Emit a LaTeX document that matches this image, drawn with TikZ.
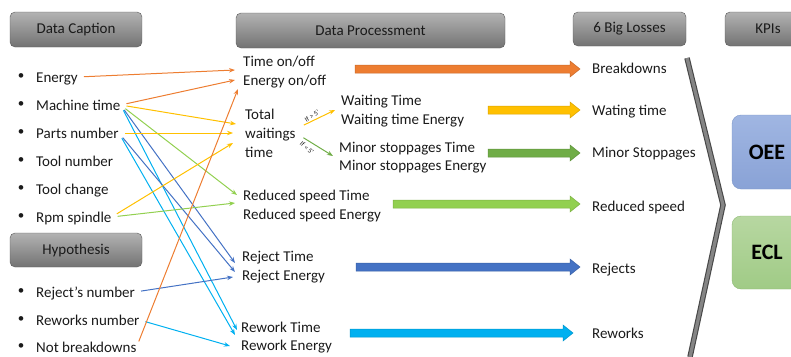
\documentclass[tikz,border=0pt]{standalone}
\usepackage{fontspec}
\setmainfont{Carlito}
\usetikzlibrary{arrows.meta,calc}
\definecolor{corange}{HTML}{ED7D31}
\definecolor{cyellow}{HTML}{FFC000}
\definecolor{cdgreen}{HTML}{70AD47}
\definecolor{clgreen}{HTML}{92D050}
\definecolor{cdblue}{HTML}{4472C4}
\definecolor{clblue}{HTML}{00B0F0}
\definecolor{txt}{HTML}{1A1A1A}
\definecolor{oeedraw}{HTML}{7B95C8}
\definecolor{oeetop}{HTML}{A0B6E2}
\definecolor{oeebot}{HTML}{89A2D6}
\definecolor{ecldraw}{HTML}{8CB973}
\definecolor{ecltop}{HTML}{B7D7A1}
\definecolor{eclbot}{HTML}{A0CB86}
\newcommand{\bigarr}[4]{%
  \path[fill=#1, draw=#1!85!black, line width=0.5pt]
    (#2,#4-4) -- (#3-10,#4-4) -- (#3-10,#4-8) -- (#3,#4) -- (#3-10,#4+8)
    -- (#3-10,#4+4) -- (#2,#4+4) -- cycle;}
\begin{document}
\begin{tikzpicture}[x=1pt,y=-1pt,
  hdr/.style={draw=black!65, rounded corners=5pt, top color=black!30, bottom color=black!55,
    text=txt, font=\fontsize{15}{18}\selectfont, inner sep=0pt},
  tx/.style={anchor=west, inner sep=0pt, text height=11pt, text depth=1pt,
    text=txt, font=\fontsize{15}{18}\selectfont},
  bul/.style={inner sep=0pt, text=txt, font=\fontsize{13}{16}\selectfont},
  ln/.style={line width=1pt, -{Stealth[length=6pt,width=4.5pt]}, shorten <=6pt},
  small/.style={inner sep=0pt, text=txt, font=\fontsize{7}{8}\selectfont},
  kpi/.style={rounded corners=9pt, inner sep=0pt, font=\fontsize{22}{26}\selectfont\bfseries, text=black}
]
\useasboundingbox (0,0) rectangle (791,356);
\clip (0,0) rectangle (791,356);

% headers
\node[hdr, minimum width=132pt, minimum height=35pt] (hcap) at (76,29.5) {Data Caption};
\node[hdr, minimum width=269pt, minimum height=35pt] (hproc) at (370.5,30.5) {Data Processment};
\node[hdr, minimum width=113pt, minimum height=34pt] (hloss) at (629.5,29) {6 Big Losses};
\node[hdr, minimum width=86pt, minimum height=34pt] (hkpi) at (768,29) {KPIs};
\node[hdr, minimum width=132pt, minimum height=34pt] (hhyp) at (76,250) {Hypothesis};

% left items
\foreach \n/\t/\y in {energy/Energy/77, machine/Machine time/105, parts/Parts number/133,
  tooln/Tool number/161, toolc/Tool change/189, rpm/Rpm spindle/217,
  rejn/Reject’s number/292, rewn/Reworks number/320, notb/Not breakdowns/347}{
  \node[bul] (b-\n) at (21,\y) {•};
  \node[tx] (\n) at (36,\y) {\t};
}

% middle texts
\node[tx] (ton) at (243,61) {Time on/off};
\node[tx] (eon) at (243,80) {Energy on/off};
\node[tx] (tw1) at (245,114) {Total};
\node[tx] (tw2) at (245,133) {waitings};
\node[tx] (tw3) at (245,152) {time};
\node[tx] (wt) at (341,100) {Waiting Time};
\node[tx] (wte) at (341,119) {Waiting time Energy};
\node[tx] (mst) at (339,147) {Minor stoppages Time};
\node[tx] (mse) at (339,165) {Minor stoppages Energy};
\node[tx] (rst) at (243,195) {Reduced speed Time};
\node[tx] (rse) at (243,214) {Reduced speed Energy};
\node[tx] (rjt) at (242,256) {Reject Time};
\node[tx] (rje) at (242,275) {Reject Energy};
\node[tx] (rwt) at (241,327) {Rework Time};
\node[tx] (rwe) at (241,345) {Rework Energy};

% right labels
\node[tx] (lb) at (592,68) {Breakdowns};
\node[tx] (lw) at (592,110) {Wating time};
\node[tx] (lm) at (592,152) {Minor Stoppages};
\node[tx] (lr) at (592,206) {Reduced speed};
\node[tx] (lj) at (592,268) {Rejects};
\node[tx] (lk) at (592,333) {Reworks};

% block arrows
\bigarr{corange}{355}{580}{69}
\bigarr{cyellow}{488}{580}{110}
\bigarr{cdgreen}{488}{580}{153}
\bigarr{clgreen}{393}{580}{204}
\bigarr{cdblue}{356}{580}{267}
\bigarr{clblue}{350}{573}{333}

% chevron
\draw[line width=5.5pt, black!72] (687,58) -- (723,205) -- (690,357);
\draw[line width=3.3pt, black!48] (687,58) -- (723,205) -- (690,357);

% KPI boxes
\node[kpi, draw=oeedraw, top color=oeetop, bottom color=oeebot,
  minimum width=70pt, minimum height=74pt] (oee) at (767,152) {OEE};
\node[kpi, draw=ecldraw, top color=ecltop, bottom color=eclbot,
  minimum width=70pt, minimum height=73pt] (ecl) at (767,252.5) {ECL};

% arrow tips
\coordinate (a1) at (235,70);
\coordinate (a2) at (235,80);
\coordinate (a3) at (236,124);
\coordinate (a4) at (233,133);
\coordinate (a5) at (233,143);
\coordinate (a6) at (237,195);
\coordinate (a7) at (235,203);
\coordinate (a8) at (235,263);
\coordinate (a9) at (235,272);
\coordinate (a10) at (233,277);
\coordinate (a11) at (237,330);
\coordinate (a12) at (235,335);
\coordinate (a13) at (230,346);
\coordinate (a14) at (238,89);

\draw[ln, corange] (energy.east) -- (a1);
\draw[ln, corange] (machine.east) -- (a2);
\draw[ln, cyellow] (machine.east) -- (a3);
\draw[ln, clgreen] (machine.east) -- (a6);
\draw[ln, cdblue] (machine.east) -- (a8);
\draw[ln, clblue] (machine.east) -- (a11);
\draw[ln, cyellow] (parts.east) -- (a4);
\draw[ln, cdblue] (parts.east) -- (a9);
\draw[ln, clblue] (parts.east) -- (a12);
\draw[ln, cyellow] (rpm.east) -- (a5);
\draw[ln, clgreen] (rpm.east) -- (a7);
\draw[ln, cdblue] (rejn.east) -- (a10);
\draw[ln, clblue] (rewn.east) -- (a13);
\draw[ln, corange] (notb.east) -- (a14);

% branches from total waitings time
\coordinate (c1) at (335,110);
\coordinate (c2) at (333,156);
\draw[ln, cyellow, shorten <=9pt] ([yshift=4pt]tw2.east) -- (c1);
\draw[ln, cdgreen, shorten <=9pt] (tw2.east) -- (c2);
\node[small, rotate=33] (if1) at (312,116) {If > 5'};
\node[small, rotate=-42] (if2) at (307,148) {If < 5'};
\end{tikzpicture}
\end{document}
